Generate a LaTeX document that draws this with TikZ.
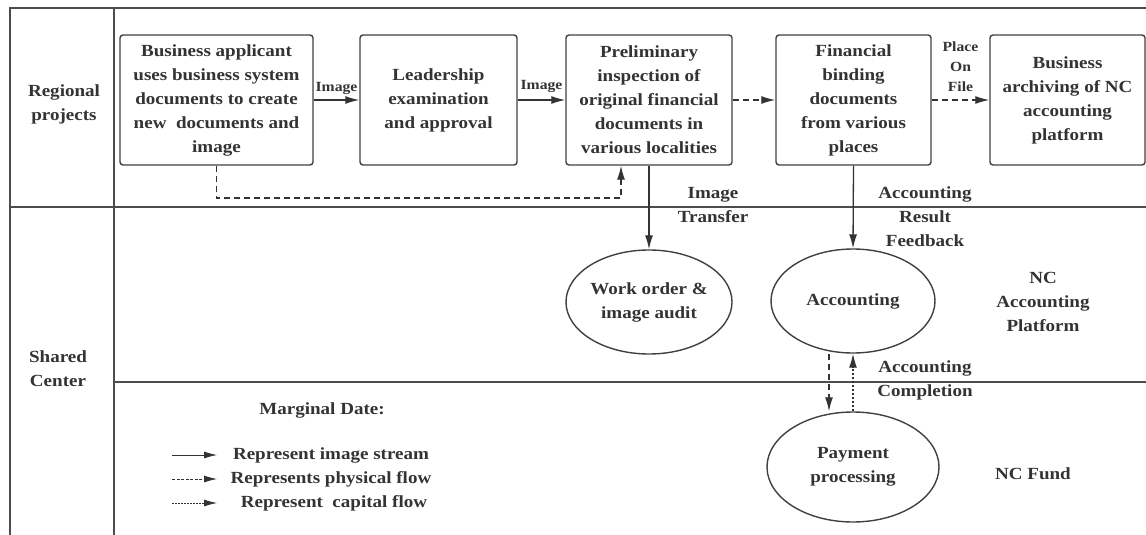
\documentclass[tikz,border=0pt]{standalone}
\usepackage{fontspec}
\setmainfont[FakeStretch=1.12]{Liberation Serif}
\usetikzlibrary{arrows.meta,shapes.geometric}

\tikzset{
  lane/.style={line width=1.4pt, draw=black!70},
  lbl/.style={align=center, font=\bfseries\fontsize{17}{24}\selectfont, text=black!80},
  tag/.style={align=center, font=\bfseries\fontsize{14}{20}\selectfont, text=black!80, inner sep=2pt},
  stepbox/.style={lbl, draw=black!75, line width=1.4pt, rounded corners=3pt, minimum height=130pt},
  oval/.style={lbl, ellipse, draw=black!75, line width=1.4pt, minimum width=164pt, minimum height=104pt, inner sep=0pt},
  img/.style={-{Latex[length=14pt,width=8pt]}, line width=1.3pt, draw=black!80},
  phys/.style={img, dash pattern=on 6pt off 4pt},
  cash/.style={img, dash pattern=on 2pt off 2pt},
  keyline/.style={line width=0.8pt, -{Latex[length=13pt,width=7pt]}, draw=black!80},
}

\begin{document}
\begin{tikzpicture}[x=1pt,y=-1pt]
    \useasboundingbox (0,0) rectangle (1146,535);

    % Swimlanes
    \draw[lane] (1146,8) -- (10,8) -- (10,535);
    \draw[lane] (114,8) -- (114,535);
    \draw[lane] (10,207) -- (1146,207);
    \draw[lane] (114,382) -- (1146,382);

    % Lane titles
    \node[lbl] (regional) at (64,104) {Regional\\projects};
    \node[lbl] (shared) at (58,369) {Shared\\Center};

    % Process boxes in the regional lane
    \node[stepbox, minimum width=193pt] (apply) at (216.5,100) {Business applicant\\uses business system\\documents to create\\new\ \ documents and\\image};
    \node[stepbox, minimum width=157pt] (lead) at (438.5,100) {Leadership\\examination\\and approval};
    \node[stepbox, minimum width=166pt] (prelim) at (649,100) {Preliminary\\inspection of\\original financial\\documents in\\various localities};
    \node[stepbox, minimum width=155pt] (bind) at (853.5,100) {Financial\\binding\\documents\\from various\\places};
    \node[stepbox, minimum width=155pt] (archive) at (1067.5,100) {Business\\archiving of NC\\accounting\\platform};

    % Ovals in the shared center
    \node[oval] (audit) at (649,302) {Work order \&\\image audit};
    \node[oval] (acct) at (853,301) {Accounting};
    \node[oval, minimum width=172pt, minimum height=110pt] (pay) at (853,467) {Payment\\processing};

    % Side notes
    \node[lbl] (platform) at (1043,302) {NC\\Accounting\\Platform};
    \node[lbl] (fund) at (1033,474) {NC Fund};

    % Flows between the boxes
    \draw[img] (apply) -- node[tag, above, yshift=3pt] {Image} (lead);
    \draw[img] (lead) -- node[tag, above, yshift=5pt] {Image} (prelim);
    \draw[phys] (prelim) -- (bind);
    \draw[phys] (bind) -- node[tag, above, yshift=6pt] {Place\\On\\File} (archive);

    % Physical documents sent on
    \coordinate (back) at (621,198);
    \draw[phys] (apply.south) |- (back) -- ([xshift=-28pt]prelim.south);

    % Down into the shared center
    \draw[img] (prelim.south) -- (audit.north);
    \node[lbl] (transfer) at (713,205) {Image\\Transfer};
    \draw[img] (bind.south) -- (acct.north);
    \node[lbl] (feedback) at (925,217) {Accounting\\Result\\Feedback};

    % Accounting and payment
    \draw[phys] ([xshift=-24pt]acct.south) -- ([xshift=-24pt]acct.south |- pay.north);
    \draw[cash] (pay.north) -- (pay.north |- acct.south);
    \node[lbl] (done) at (925,380) {Accounting\\Completion};

    % Legend
    \node[lbl] (legend) at (322,410) {Marginal Date:};
    \node[lbl] (keyimg) at (331,455) {Represent image stream};
    \node[lbl] (keyphys) at (331,479) {Represents physical flow};
    \node[lbl] (keycash) at (334,503) {Represent\ \ capital flow};
    \coordinate (k1) at (172,455);
    \coordinate (k2) at (172,479);
    \coordinate (k3) at (172,503);
    \draw[keyline] (k1) -- ++(45,0);
    \draw[keyline, dash pattern=on 3pt off 1.5pt] (k2) -- ++(45,0);
    \draw[keyline, dash pattern=on 1.5pt off 1.5pt] (k3) -- ++(45,0);
\end{tikzpicture}
\end{document}
